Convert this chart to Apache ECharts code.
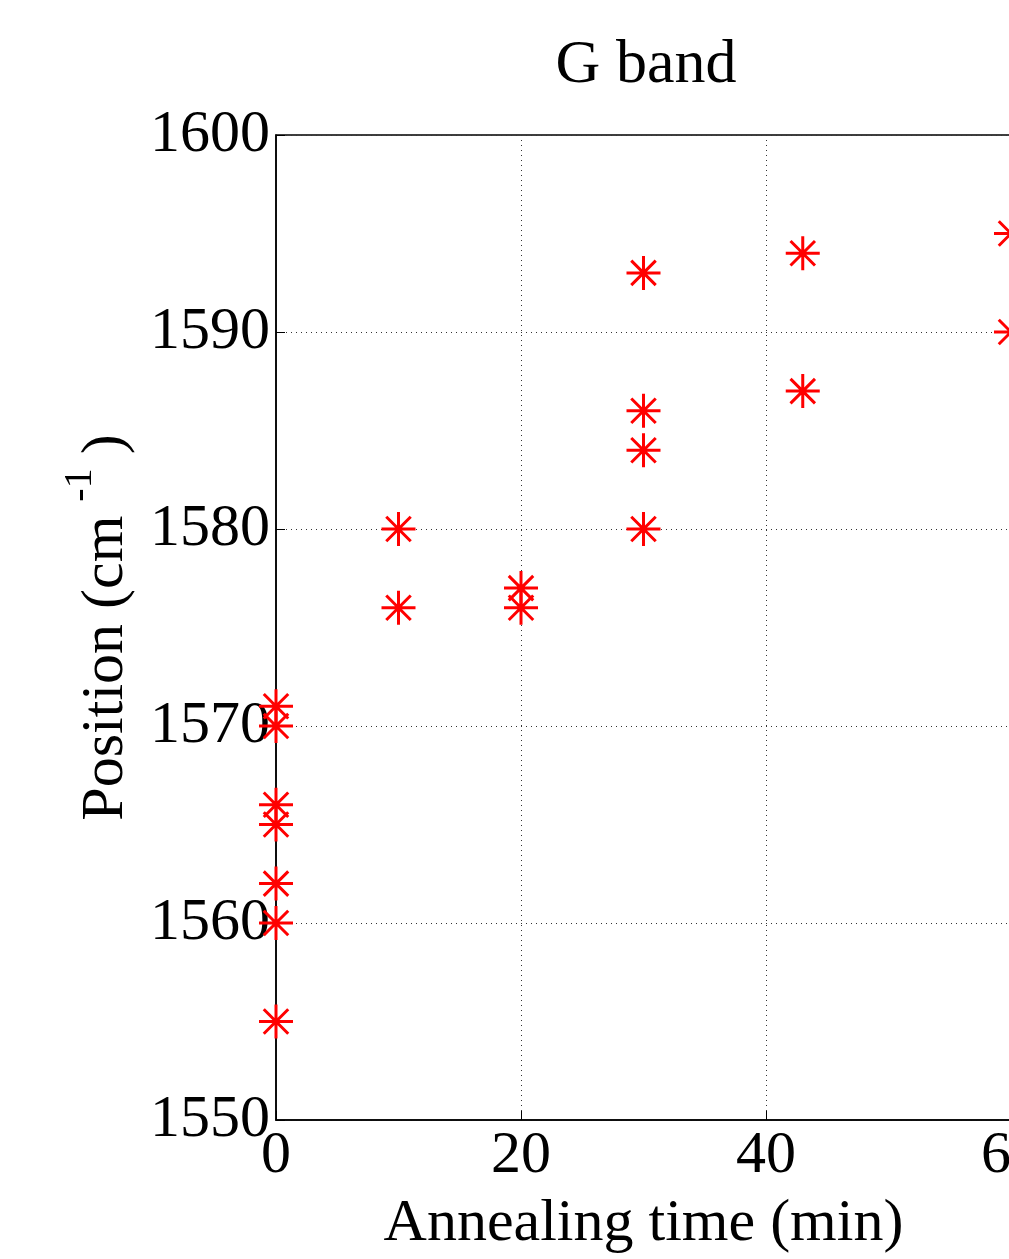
<!DOCTYPE html>
<html>
<head>
<meta charset="utf-8">
<script src="https://cdn.jsdelivr.net/npm/echarts@6/dist/echarts.min.js"></script>
<style>
  html, body { margin: 0; padding: 0; background: #fff; }
  #chart { width: 1009px; height: 1259px; }
</style>
</head>
<body>
<div id="chart"></div>
<script>
// annealing time (min) and G band position (cm^-1)
const annealTime = [0, 0, 0, 0, 0, 0, 0, 10, 10, 20, 20, 30, 30, 30, 30, 43, 43, 60, 60]
const gPosition = [1571, 1570, 1566, 1565, 1562, 1560, 1555, 1580, 1576, 1577, 1576, 1593, 1586, 1584, 1580, 1594, 1587, 1595, 1590]

const xTicks = [0, 20, 40, 60]
const yTicks = [1550, 1560, 1570, 1580, 1590, 1600]

const serif = "'Liberation Serif', serif"

// matlab style '*' marker : plus + cross
const asterisk = 'path://M0,-1L0,1M-1,0L1,0M-0.72,-0.72L0.72,0.72M-0.72,0.72L0.72,-0.72'

const points = annealTime.map((t, i) => [t, gPosition[i]])

const myChart = echarts.init(document.getElementById('chart'))

myChart.setOption({
  animation: false,
  backgroundColor: '#fff',
  title: {
    text: 'G band',
    left: 641,
    textAlign: 'center',
    top: 30,
    textStyle: {
      fontFamily: serif,
      fontWeight: 'normal',
      fontSize: 62,
      color: '#000',
    },
  },
  grid: {
    left: 276,
    top: 135,
    width: 735,
    height: 985,
    outerBoundsMode: 'none',
    containLabel: false,
    show: true,
    borderColor: '#000',
    borderWidth: 1.5,
  },
  xAxis: {
    type: 'value',
    min: xTicks[0],
    max: xTicks[xTicks.length - 1],
    interval: 20,
    name: 'Annealing time (min)',
    nameLocation: 'middle',
    nameGap: 74,
    nameTextStyle: { fontFamily: serif, fontSize: 60, color: '#000' },
    axisLine: { show: true, lineStyle: { color: '#000', width: 1.5 } },
    axisTick: { show: true, inside: true, length: 9, lineStyle: { color: '#000' } },
    axisLabel: { fontFamily: serif, fontSize: 60, color: '#000', margin: 6, formatter: v => String(v) },
    splitLine: { show: true, lineStyle: { color: '#333', type: [1, 4], width: 1 } },
  },
  yAxis: {
    type: 'value',
    min: yTicks[0],
    max: yTicks[yTicks.length - 1],
    interval: 10,
    name: '{a|Position (cm}{s|-1}{a|)}',
    nameLocation: 'middle',
    nameRotate: 90,
    nameGap: 140,
    nameTextStyle: {
      color: '#000',
      rich: {
        a: { fontFamily: serif, fontSize: 60, lineHeight: 76, verticalAlign: 'bottom', color: '#000' },
        s: { fontFamily: serif, fontSize: 40, lineHeight: 40, verticalAlign: 'top', color: '#000', padding: [0, 14, 0, 14] },
      },
    },
    axisLine: { show: true, lineStyle: { color: '#000', width: 1.5 } },
    axisTick: { show: true, inside: true, length: 9, lineStyle: { color: '#000' } },
    axisLabel: { fontFamily: serif, fontSize: 60, color: '#000', margin: 6, formatter: v => String(v) },
    splitLine: { show: true, lineStyle: { color: '#333', type: [1, 4], width: 1 } },
  },
  series: [
    {
      type: 'scatter',
      data: points,
      clip: false,
      symbol: asterisk,
      symbolSize: 34,
      itemStyle: {
        color: 'none',
        borderColor: '#ff0000',
        borderWidth: 3,
        opacity: 1,
      },
    },
  ],
})
</script>
</body>
</html>
